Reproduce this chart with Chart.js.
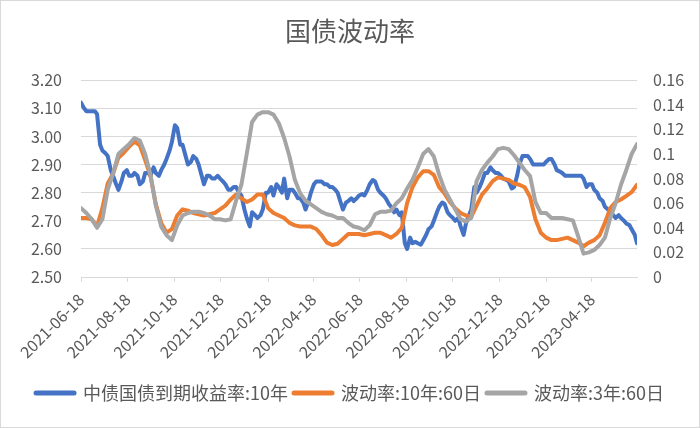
<!DOCTYPE html>
<html>
<head>
<meta charset="utf-8">
<script src="https://cdn.jsdelivr.net/npm/chart.js@4.4.0/dist/chart.umd.min.js"></script>
<style>
  html, body { margin: 0; padding: 0; background: #fff; }
  #wrap { position: relative; width: 700px; height: 428px; box-sizing: border-box; border: 1px solid #d9d9d9; }
</style>
</head>
<body>
<div id="wrap"><canvas id="chart"></canvas></div>
<script>
// weekly samples (Fridays)
const dates = [
  '2021-06-18','2021-06-25','2021-07-02','2021-07-09','2021-07-16','2021-07-23','2021-07-30','2021-08-06','2021-08-13','2021-08-20',
  '2021-08-27','2021-09-03','2021-09-10','2021-09-17','2021-09-24','2021-10-01','2021-10-08','2021-10-15','2021-10-22','2021-10-29',
  '2021-11-05','2021-11-12','2021-11-19','2021-11-26','2021-12-03','2021-12-10','2021-12-17','2021-12-24','2021-12-31','2022-01-07',
  '2022-01-14','2022-01-21','2022-01-28','2022-02-04','2022-02-11','2022-02-18','2022-02-25','2022-03-04','2022-03-11','2022-03-18',
  '2022-03-25','2022-04-01','2022-04-08','2022-04-15','2022-04-22','2022-04-29','2022-05-06','2022-05-13','2022-05-20','2022-05-27',
  '2022-06-03','2022-06-10','2022-06-17','2022-06-24','2022-07-01','2022-07-08','2022-07-15','2022-07-22','2022-07-29','2022-08-05',
  '2022-08-12','2022-08-19','2022-08-26','2022-09-02','2022-09-09','2022-09-16','2022-09-23','2022-09-30','2022-10-07','2022-10-14',
  '2022-10-21','2022-10-28','2022-11-04','2022-11-11','2022-11-18','2022-11-25','2022-12-02','2022-12-09','2022-12-16','2022-12-23',
  '2022-12-30','2023-01-06','2023-01-13','2023-01-20','2023-01-27','2023-02-03','2023-02-10','2023-02-17','2023-02-24','2023-03-03',
  '2023-03-10','2023-03-17','2023-03-24','2023-03-31','2023-04-07','2023-04-14','2023-04-21','2023-04-28','2023-05-05','2023-05-12',
  '2023-05-19','2023-05-26','2023-06-02','2023-06-09','2023-06-16'
];

const yield10y = [
  3.12, 3.09, 3.09, 3.08, 2.95, 2.93, 2.86, 2.81, 2.87, 2.86,
  2.87, 2.83, 2.87, 2.86, 2.87, 2.88, 2.92, 2.98, 3.03, 2.97,
  2.90, 2.93, 2.90, 2.83, 2.86, 2.85, 2.85, 2.83, 2.81, 2.82,
  2.79, 2.71, 2.73, 2.71, 2.74, 2.80, 2.79, 2.82, 2.85, 2.81,
  2.80, 2.78, 2.74, 2.80, 2.84, 2.84, 2.83, 2.82, 2.80, 2.74,
  2.77, 2.77, 2.79, 2.79, 2.83, 2.84, 2.80, 2.78, 2.75, 2.74,
  2.73, 2.60, 2.62, 2.62, 2.63, 2.67, 2.70, 2.75, 2.76, 2.72,
  2.70, 2.68, 2.69, 2.74, 2.80, 2.84, 2.87, 2.88, 2.87, 2.85,
  2.84, 2.82, 2.90, 2.93, 2.92, 2.90, 2.90, 2.91, 2.92, 2.88,
  2.87, 2.86, 2.86, 2.86, 2.85, 2.83, 2.81, 2.78, 2.75, 2.73,
  2.71, 2.71, 2.69, 2.67, 2.62
];

// extra mid-week (Tuesday) readings of the yield, it is much more jagged
const yieldMidDates = [
  '2021-06-22','2021-06-29','2021-07-06','2021-07-13','2021-07-20','2021-07-27','2021-08-03','2021-08-10','2021-08-17','2021-08-24',
  '2021-08-31','2021-09-07','2021-09-14','2021-09-21','2021-09-28','2021-10-05','2021-10-12','2021-10-19','2021-10-26','2021-11-02',
  '2021-11-09','2021-11-16','2021-11-23','2021-11-30','2021-12-07','2021-12-14','2021-12-21','2021-12-28','2022-01-04','2022-01-11',
  '2022-01-18','2022-01-25','2022-02-01','2022-02-08','2022-02-15','2022-02-22','2022-03-01','2022-03-08','2022-03-15','2022-03-22',
  '2022-03-29','2022-04-05','2022-04-12','2022-04-19','2022-04-26','2022-05-03','2022-05-10','2022-05-17','2022-05-24','2022-05-31',
  '2022-06-07','2022-06-14','2022-06-21','2022-06-28','2022-07-05','2022-07-12','2022-07-19','2022-07-26','2022-08-02','2022-08-09',
  '2022-08-16','2022-08-23','2022-08-30','2022-09-06','2022-09-13','2022-09-20','2022-09-27','2022-10-04','2022-10-11','2022-10-18',
  '2022-10-25','2022-11-01','2022-11-08','2022-11-15','2022-11-22','2022-11-29','2022-12-06','2022-12-13','2022-12-20','2022-12-27',
  '2023-01-03','2023-01-10','2023-01-17','2023-01-24','2023-01-31','2023-02-07','2023-02-14','2023-02-21','2023-02-28','2023-03-07',
  '2023-03-14','2023-03-21','2023-03-28','2023-04-04','2023-04-11','2023-04-18','2023-04-25','2023-05-02','2023-05-09','2023-05-16',
  '2023-05-23','2023-05-30','2023-06-06','2023-06-13'
];

const yieldMid = [
  3.10, 3.09, 3.09, 2.97, 2.94, 2.88, 2.83, 2.84, 2.88, 2.86,
  2.86, 2.84, 2.87, 2.89, 2.86, 2.90, 2.95, 3.04, 2.97, 2.93,
  2.91, 2.92, 2.86, 2.86, 2.85, 2.86, 2.84, 2.81, 2.82, 2.80,
  2.74, 2.68, 2.72, 2.72, 2.80, 2.82, 2.83, 2.80, 2.78, 2.81,
  2.78, 2.765, 2.77, 2.83, 2.84, 2.83, 2.82, 2.81, 2.765, 2.765,
  2.78, 2.78, 2.795, 2.81, 2.845, 2.81, 2.79, 2.76, 2.73, 2.72,
  2.62, 2.64, 2.625, 2.615, 2.65, 2.68, 2.73, 2.765, 2.73, 2.71,
  2.71, 2.65, 2.72, 2.82, 2.82, 2.87, 2.89, 2.87, 2.86, 2.845,
  2.815, 2.86, 2.93, 2.93, 2.90, 2.90, 2.90, 2.92, 2.90, 2.875,
  2.86, 2.86, 2.86, 2.86, 2.82, 2.83, 2.80, 2.77, 2.74, 2.72,
  2.72, 2.70, 2.685, 2.65
];

const vol10y = [
  0.048, 0.048, 0.047, 0.041, 0.056, 0.076, 0.084, 0.097, 0.101, 0.106,
  0.110, 0.107, 0.095, 0.082, 0.059, 0.044, 0.036, 0.039, 0.050, 0.055,
  0.054, 0.052, 0.051, 0.050, 0.051, 0.052, 0.055, 0.058, 0.063, 0.067,
  0.064, 0.061, 0.063, 0.067, 0.067, 0.056, 0.052, 0.050, 0.048, 0.044,
  0.042, 0.041, 0.041, 0.041, 0.039, 0.034, 0.028, 0.026, 0.027, 0.031,
  0.035, 0.035, 0.035, 0.034, 0.035, 0.036, 0.036, 0.034, 0.032, 0.035,
  0.040, 0.060, 0.073, 0.081, 0.086, 0.086, 0.083, 0.073, 0.068, 0.061,
  0.056, 0.052, 0.050, 0.049, 0.058, 0.067, 0.072, 0.078, 0.081, 0.080,
  0.079, 0.076, 0.075, 0.073, 0.065, 0.047, 0.036, 0.032, 0.030, 0.030,
  0.031, 0.032, 0.030, 0.028, 0.025, 0.028, 0.030, 0.034, 0.044, 0.056,
  0.061, 0.063, 0.066, 0.069, 0.075
];

const vol3y = [
  0.056, 0.052, 0.047, 0.040, 0.047, 0.071, 0.084, 0.100, 0.104, 0.108,
  0.113, 0.111, 0.100, 0.083, 0.058, 0.041, 0.034, 0.030, 0.042, 0.050,
  0.052, 0.053, 0.053, 0.052, 0.050, 0.047, 0.047, 0.046, 0.047, 0.062,
  0.075, 0.100, 0.126, 0.132, 0.134, 0.134, 0.132, 0.125, 0.113, 0.098,
  0.079, 0.068, 0.062, 0.059, 0.056, 0.053, 0.051, 0.050, 0.048, 0.048,
  0.044, 0.041, 0.040, 0.038, 0.042, 0.051, 0.053, 0.053, 0.054, 0.060,
  0.064, 0.072, 0.079, 0.089, 0.100, 0.104, 0.098, 0.083, 0.071, 0.063,
  0.055, 0.047, 0.045, 0.048, 0.078, 0.087, 0.093, 0.098, 0.104, 0.105,
  0.104, 0.099, 0.093, 0.087, 0.082, 0.061, 0.052, 0.052, 0.048, 0.048,
  0.048, 0.047, 0.046, 0.033, 0.019, 0.020, 0.022, 0.026, 0.032, 0.048,
  0.060, 0.075, 0.087, 0.100, 0.108
];

const tickDates = [
  '2021-06-18','2021-08-18','2021-10-18','2021-12-18','2022-02-18','2022-04-18',
  '2022-06-18','2022-08-18','2022-10-18','2022-12-18','2023-02-18','2023-04-18'
];

Chart.defaults.font.family = "'Noto Sans CJK SC', 'Noto Sans', sans-serif";
Chart.defaults.color = '#595959';

const t0 = Date.parse(dates[0]);
const dayOf = d => (Date.parse(d) - t0) / 864e5;
const pts = (ds, vals) => ds.map((d, i) => ({ x: dayOf(d), y: vals[i] }));
const yieldPts = pts(dates, yield10y).concat(pts(yieldMidDates, yieldMid)).sort((a, b) => a.x - b.x);

const GRID = '#d9d9d9';
const TXT = '#595959';
const LW = 4;

new Chart(document.getElementById('chart'), {
  type: 'line',
  data: {
    datasets: [
      { label: '中债国债到期收益率:10年', data: yieldPts, yAxisID: 'yL',
        borderColor: '#4472C4', backgroundColor: '#4472C4', order: 3 },
      { label: '波动率:10年:60日', data: pts(dates, vol10y), yAxisID: 'yR',
        borderColor: '#ED7D31', backgroundColor: '#ED7D31', order: 2 },
      { label: '波动率:3年:60日', data: pts(dates, vol3y), yAxisID: 'yR',
        borderColor: '#A5A5A5', backgroundColor: '#A5A5A5', order: 1 }
    ]
  },
  options: {
    responsive: true,
    maintainAspectRatio: false,
    animation: false,
    elements: {
      point: { radius: 0 },
      line: { borderWidth: LW, tension: 0, borderCapStyle: 'round', borderJoinStyle: 'round' }
    },
    layout: { padding: { left: 9, right: 9, top: 7, bottom: 15 } },
    plugins: {
      title: {
        display: true, text: '国债波动率', color: TXT,
        font: { size: 26, weight: 'normal' },
        padding: { top: 8, bottom: 33 }
      },
      legend: {
        position: 'bottom',
        labels: {
          usePointStyle: true, pointStyle: 'line', pointStyleWidth: 38,
          color: TXT, font: { size: 18 }, padding: 6,
          // keep series order, draw legend strokes thick with round ends
          generateLabels: chart => Chart.defaults.plugins.legend.labels.generateLabels(chart)
            .map(l => ({ ...l, lineWidth: LW + 1, lineCap: 'round' })),
          sort: (a, b) => a.datasetIndex - b.datasetIndex
        }
      },
      tooltip: { enabled: false }
    },
    scales: {
      x: {
        type: 'linear',
        min: 0,
        max: dayOf(dates[dates.length - 1]),
        afterBuildTicks: s => { s.ticks = tickDates.map(d => ({ value: dayOf(d) })); },
        afterFit: s => { s.height = 101; },
        grid: { drawOnChartArea: false, drawTicks: true, tickLength: 5, color: GRID },
        border: { display: true, color: GRID },
        ticks: {
          autoSkip: false, minRotation: 45, maxRotation: 45,
          color: TXT, font: { size: 16 }, padding: 8,
          callback: (v, i) => tickDates[i]
        }
      },
      yL: {
        position: 'left',
        min: 2.5, max: 3.2,
        afterFit: s => { s.width = 71; },
        grid: { color: GRID, drawTicks: false },
        border: { display: false },
        ticks: { stepSize: 0.1, padding: 19, color: TXT, font: { size: 16 },
                 callback: v => v.toFixed(2) }
      },
      yR: {
        position: 'right',
        min: 0, max: 0.16,
        afterFit: s => { s.width = 53; },
        grid: { drawOnChartArea: false, drawTicks: false },
        border: { display: false },
        ticks: { stepSize: 0.02, padding: 16, color: TXT, font: { size: 16 },
                 callback: v => String(+v.toFixed(2)) }
      }
    }
  }
});
</script>
</body>
</html>
